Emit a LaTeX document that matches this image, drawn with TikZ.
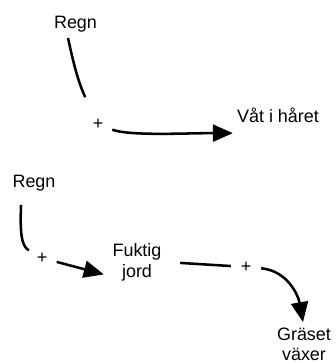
\documentclass[tikz,border=0pt]{standalone}
\usepackage{fontspec}
\setmainfont{Liberation Sans}
\usepackage{tikz}
\usetikzlibrary{arrows.meta}
\tikzset{
    varbox/.style={
        align=center,
        font=\fontsize{12}{13.7}\selectfont,
        inner sep=1pt
    },
    polarity/.style={
        circle,
        font=\fontsize{12}{13.7}\selectfont,
        inner sep=0pt,
        minimum size=0.7cm
    },
    link/.style={line width=1.7pt, draw=black},
    flow/.style={link, -{Triangle[length=4.7mm, width=4mm]}}
}

\begin{document}
\begin{tikzpicture}[x=0.0235cm, y=-0.0235cm]
    \useasboundingbox (0,0) rectangle (335,363);

    \node[varbox] (regnA) at (75.5,24.4) {Regn};
    \node[polarity] (plusA) at (98,124.5) {+};
    \node[varbox] (wethair) at (278,115.5) {Våt i håret};

    \draw[link, shorten >=10] ([shift={(-7.5,3.7)}]regnA.south) to[out=-78, in=115] (plusA);
    \draw[flow] (plusA) to[out=-20, in=180, out looseness=0.4] ([shift={(-2.5,8.5)}]wethair.south west);

    \node[varbox] (regnB) at (34,183.4) {Regn};
    \node[polarity] (plusB) at (42,258) {+};
    \node[varbox] (wetsoil) at (137,262.4) {Fuktig\\jord};
    \node[polarity] (plusC) at (246,267) {+};
    \node[varbox] (grass) at (304,344.5) {Gräset\\växer};

    \draw[link] ([shift={(-13,11.7)}]regnB.south) to[out=-92, in=150, out looseness=1.5, in looseness=0.5] (plusB);
    \draw[flow] (plusB) -- ([shift={(-7,12)}]wetsoil.west);
    \draw[link] ([shift={(17,0.5)}]wetsoil.east) -- (plusC);
    \draw[flow] (plusC) to[out=-5, in=100] ([shift={(-1,-4)}]grass.north);
\end{tikzpicture}
\end{document}
